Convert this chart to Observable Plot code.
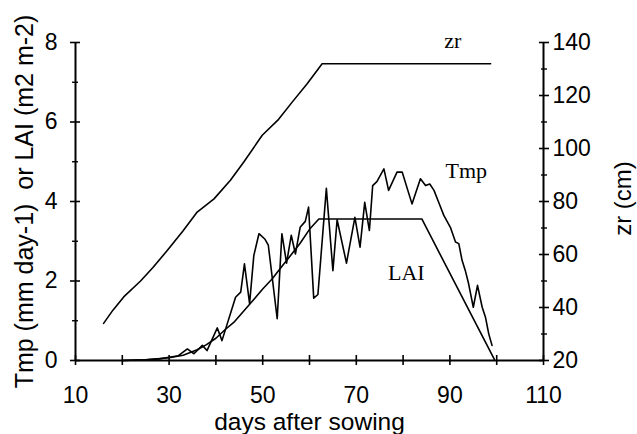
<!DOCTYPE html>
<html>
<head>
<meta charset="utf-8">
<script src="https://cdn.jsdelivr.net/npm/d3@7"></script>
<script src="https://cdn.jsdelivr.net/npm/@observablehq/plot@0.6"></script>
<style>
  html, body { margin: 0; padding: 0; background: white; }
</style>
</head>
<body>
<div id="chart"></div>
<script>
// ---- data: [day after sowing, value] ----
const tmp = [
  [20,0],[25,0.02],[28,0.04],[30,0.08],[32,0.12],[33.9,0.29],[35.3,0.17],[37.1,0.38],
  [38.1,0.25],[40.3,0.82],[41.3,0.5],[44.2,1.59],[45.3,1.72],[46.1,2.43],[47.2,1.43],
  [48.1,2.64],[49.2,3.19],[50.5,3.05],[51.2,2.9],[53.1,1.05],[54.1,3.19],[55.1,2.45],
  [56.1,3.15],[57,2.68],[58,3.35],[59.1,3.5],[59.8,3.86],[60.9,1.57],[61.8,1.66],
  [63.6,4.33],[65,2.26],[65.9,3.54],[67.9,2.45],[69.7,3.6],[70.8,2.85],[71.8,3.98],
  [72.8,3.27],[73.5,4.4],[74.4,4.5],[75.9,4.82],[76.9,4.28],[78.7,4.74],[79.8,4.74],
  [81.9,3.94],[83.7,4.57],[84.8,4.4],[85.7,4.44],[86.6,4.28],[87.6,3.98],[88.7,3.65],
  [90.1,3.35],[91.2,2.98],[91.9,2.94],[92.6,2.52],[93.3,2.26],[94,1.93],[95,1.34],
  [95.9,1.89],[96.9,1.34],[97.6,1.09],[98.3,0.67],[99,0.38]
];
const lai = [
  [20,0],[25,0.02],[30,0.07],[33,0.13],[36,0.27],[38,0.4],[40,0.56],[42,0.78],[44,0.98],
  [46,1.25],[48,1.52],[50,1.8],[52,2.05],[54,2.35],[56,2.65],[58,2.95],[60,3.3],
  [62,3.56],[84,3.56],[99.5,0.03]
];
const zr = [
  [16,34],[18,39],[20.3,44],[23.9,50],[26.5,55],[29.6,61.5],[33,69],[36,76],[39.6,81],
  [43.1,88],[46,95],[49.9,105],[53.4,111],[56.3,117.5],[59.5,124.4],[62.7,132],[98.7,132]
];
const seriesLabels = [
  {name: "zr", day: 90.6, value: 8.03},
  {name: "Tmp", day: 93.5, value: 4.78},
  {name: "LAI", day: 80.7, value: 2.21}
];

// ---- axes ----
const xTicks = [10,20,30,40,50,60,70,80,90,100,110];
const xLabels = [10,30,50,70,90,110];
const yTicks = [0,2,4,6,8];
const yMinor = [1,3,5,7];
const zrTicks = [20,40,60,80,100,120,140];
const zrMinor = [30,50,70,90,110,130];
const xTitle = "days after sowing";
const yTitle = "Tmp (mm day-1)  or LAI (m2 m-2)";
const zrTitle = "zr (cm)";

// zr (cm) shares the left scale: 20..140 cm  <->  0..8
const zrToY = v => (v - 20) / 15;
const yToZr = y => Math.round(y * 15 + 20);

const FS = 23;
const chart = Plot.plot({
  width: 637,
  height: 434,
  marginLeft: 75,
  marginRight: 94,
  marginTop: 42,
  marginBottom: 74,
  style: {fontFamily: "'Liberation Sans', Arial, sans-serif", background: "white", color: "black", overflow: "visible"},
  x: {domain: [10, 110]},
  y: {domain: [0, 8]},
  marks: [
    // axis lines
    Plot.ruleX([10, 110], {strokeWidth: 2}),
    Plot.ruleY([0], {strokeWidth: 2}),
    // left axis
    Plot.axisY(yTicks, {anchor: "left", tickSize: 10, dx: 5, fill: "none", strokeWidth: 1.6, label: null}),
    Plot.axisY(yMinor, {anchor: "left", tickSize: 6, dx: 3, fill: "none", strokeWidth: 1.4, label: null}),
    Plot.axisY(yTicks, {anchor: "left", tickSize: 0, tickPadding: 18, fontSize: FS, label: null}),
    // right axis (zr)
    Plot.axisY(zrTicks.map(zrToY), {anchor: "right", tickSize: 10, dx: -5, fill: "none", strokeWidth: 1.6, label: null}),
    Plot.axisY(zrMinor.map(zrToY), {anchor: "right", tickSize: 6, dx: -3, fill: "none", strokeWidth: 1.4, label: null}),
    Plot.axisY(zrTicks.map(zrToY), {anchor: "right", tickSize: 0, tickPadding: 9, fontSize: FS, tickFormat: yToZr, label: null}),
    // bottom axis
    Plot.axisX(xTicks, {anchor: "bottom", tickSize: 10, dy: -5, fill: "none", strokeWidth: 1.6, label: null}),
    Plot.axisX(xLabels, {anchor: "bottom", tickSize: 0, tickPadding: 26, fontSize: FS, label: null}),
    // titles
    Plot.text([yTitle], {frameAnchor: "left", textAnchor: "middle", lineAnchor: "middle", rotate: -90, dx: -51, fontSize: 25, text: d => d}),
    Plot.text([zrTitle], {frameAnchor: "right", textAnchor: "middle", lineAnchor: "middle", rotate: -90, dx: 80, dy: -3, fontSize: 24, text: d => d}),
    Plot.text([xTitle], {frameAnchor: "bottom", textAnchor: "middle", lineAnchor: "middle", dy: 62, fontSize: 24.5, text: d => d}),
    // series
    Plot.line(zr, {x: d => d[0], y: d => zrToY(d[1]), stroke: "black", strokeWidth: 1.6}),
    Plot.line(lai, {x: d => d[0], y: d => d[1], stroke: "black", strokeWidth: 1.6}),
    Plot.line(tmp, {x: d => d[0], y: d => d[1], stroke: "black", strokeWidth: 1.6}),
    Plot.text(seriesLabels, {x: "day", y: "value", text: "name", fontFamily: "'Liberation Serif', 'Times New Roman', serif", fontSize: 22})
  ]
});
document.getElementById("chart").appendChild(chart);
</script>
</body>
</html>
